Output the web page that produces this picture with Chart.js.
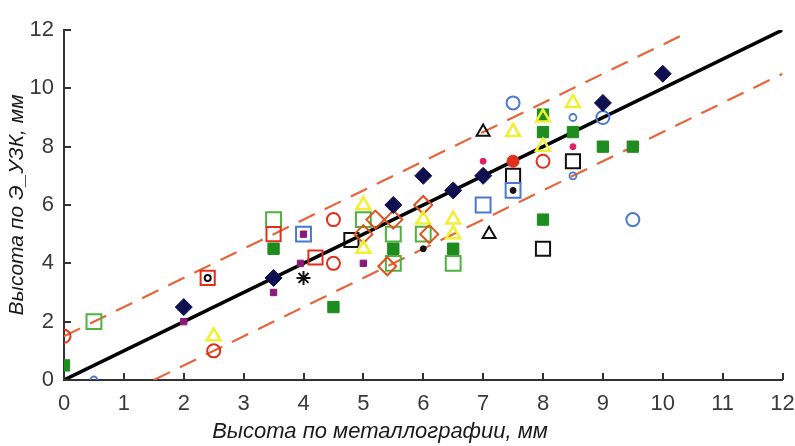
<!DOCTYPE html>
<html>
<head>
<meta charset="utf-8">
<script src="https://cdn.jsdelivr.net/npm/chart.js@4.4.1/dist/chart.umd.min.js"></script>
<style>
  html, body { margin: 0; padding: 0; background: #fff; }
  canvas { display: block; }
</style>
</head>
<body>
<canvas id="chart" width="795" height="446"></canvas>
<script>
// значения
const xTicks = [0, 1, 2, 3, 4, 5, 6, 7, 8, 9, 10, 11, 12]
const yTicks = [0, 2, 4, 6, 8, 10, 12]

const fitX = [0, 12]
const fitY = [0, 12]
const upperX = [0, 10.4]
const upperY = [1.5, 11.9]
const lowerX = [1.5, 12]
const lowerY = [0, 10.5]

const navyX = [2, 3.5, 5.5, 6, 6.5, 7, 9, 10]
const navyY = [2.5, 3.5, 6, 7, 6.5, 7, 9.5, 10.5]
const greenFillX = [0, 3.5, 4.5, 5.5, 6.5, 8, 8, 8.5, 9, 9.5, 8]
const greenFillY = [0.5, 4.5, 2.5, 4.5, 4.5, 9.1, 8.5, 8.5, 8, 8, 5.5]
const greenOpenX = [0.5, 3.5, 5, 5.5, 5.5, 6, 6.5]
const greenOpenY = [2, 5.5, 5.5, 5, 4, 5, 4]
const redCircX = [0, 2.5, 4.5, 4.5, 8]
const redCircY = [1.5, 1, 5.5, 4, 7.5]
const redDotX = [7.5]
const redDotY = [7.5]
const redSqX = [2.4, 3.5, 4.2]
const redSqY = [3.5, 5, 4.2]
const blueSqX = [4, 7, 7.5]
const blueSqY = [5, 6, 6.5]
const blackSqX = [4.8, 7.5, 8, 8.5]
const blackSqY = [4.8, 7, 4.5, 7.5]
const purpleX = [2, 3.5, 4, 5, 3.95]
const purpleY = [2, 3, 5, 4, 4]
const yellowX = [2.5, 5, 5, 6, 6.5, 6.5, 7.5, 8, 8, 8.5]
const yellowY = [1.5, 6, 4.5, 5.5, 5.5, 5, 8.5, 9, 8, 9.5]
const diamondX = [5, 5.2, 5.5, 5.4, 6, 6.1]
const diamondY = [5, 5.5, 5.5, 3.9, 6, 5]
const blackDotX = [6, 7.5]
const blackDotY = [4.5, 6.5]
const blackRingX = [2.4]
const blackRingY = [3.5]
const blackTriX = [7, 7.1]
const blackTriY = [8.5, 5]
const blueBigX = [7.5, 9, 9.5]
const blueBigY = [9.5, 9, 5.5]
const blueSmallX = [0.5, 8.5, 8.5]
const blueSmallY = [0, 9, 7]
const pinkX = [7, 8.5]
const pinkY = [7.5, 8]
const starX = [4]
const starY = [3.5]

const xTitle = 'Высота по металлографии, мм'
const yTitle = 'Высота по Э_УЗК, мм'

function pts(xs, ys) {
    return xs.map((x, i) => ({ x: x, y: ys[i] }))
}

function marks(xs, ys, style, radius, border, fill, width) {
    return {
        data: pts(xs, ys),
        pointStyle: style,
        pointRadius: radius,
        pointBorderColor: border,
        pointBackgroundColor: fill,
        pointBorderWidth: width,
        showLine: false,
        order: 1
    }
}

function line(xs, ys, color, width, dash) {
    return {
        data: pts(xs, ys),
        showLine: true,
        borderColor: color,
        borderWidth: width,
        borderDash: dash,
        pointRadius: 0,
        order: 5
    }
}

// подпись оси X и короткие засечки внутрь поля
const axisExtras = {
    id: 'axisExtras',
    afterDraw(chart) {
        const ctx = chart.ctx
        const xs = chart.scales.x
        const ys = chart.scales.y
        const area = chart.chartArea
        ctx.save()
        ctx.strokeStyle = '#333'
        ctx.lineWidth = 2
        ctx.beginPath()
        xTicks.forEach(v => {
            const px = Math.round(xs.getPixelForValue(v))
            ctx.moveTo(px, area.bottom)
            ctx.lineTo(px, area.bottom - 7)
        })
        yTicks.forEach(v => {
            const py = Math.round(ys.getPixelForValue(v))
            ctx.moveTo(area.left, py)
            ctx.lineTo(area.left + 7, py)
        })
        ctx.stroke()

        ctx.font = 'italic 22px "Liberation Sans", Arial, sans-serif'
        ctx.fillStyle = '#1a1a1a'
        ctx.textAlign = 'center'
        ctx.textBaseline = 'middle'
        ctx.fillText(xTitle, 380, 432)
        ctx.restore()
    }
}

const tickFont = { family: '"Liberation Sans", Arial, sans-serif', size: 22 }

new Chart(document.getElementById('chart'), {
    type: 'scatter',
    data: {
        datasets: [
            marks(starX, starY, 'star', 7, '#111', '#111', 2),
            marks(blackRingX, blackRingY, 'circle', 3, '#111', '#fff', 2),
            marks(blackDotX, blackDotY, 'circle', 3, '#111', '#111', 1),
            marks(purpleX, purpleY, 'rect', 4.5, '#8a1a78', '#8a1a78', 1),
            marks(pinkX, pinkY, 'circle', 3, '#e0205e', '#e0205e', 1),
            marks(redDotX, redDotY, 'circle', 6, '#e0301c', '#e0301c', 1),
            marks(yellowX, yellowY, 'triangle', 8, '#f0f030', 'transparent', 2.5),
            marks(navyX, navyY, 'rectRot', 8.5, '#101050', '#101050', 1),
            marks(blackTriX, blackTriY, 'triangle', 7.5, '#111', 'transparent', 2),
            marks(diamondX, diamondY, 'rectRot', 9, '#e0501a', 'transparent', 2),
            marks(greenFillX, greenFillY, 'rect', 8, '#1e8c1e', '#1e8c1e', 1),
            marks(redSqX, redSqY, 'rect', 10, '#e0301c', 'transparent', 2),
            marks(blueSqX, blueSqY, 'rect', 10.5, '#4a78d0', 'transparent', 2),
            marks(blackSqX, blackSqY, 'rect', 10, '#111', 'transparent', 2),
            marks(greenOpenX, greenOpenY, 'rect', 10.5, '#50b040', 'transparent', 2),
            marks(redCircX, redCircY, 'circle', 6.5, '#e0301c', 'transparent', 2),
            marks(blueBigX, blueBigY, 'circle', 6.5, '#4a78d0', 'transparent', 2),
            marks(blueSmallX, blueSmallY, 'circle', 3.5, '#4a78d0', 'transparent', 1.8),
            line(fitX, fitY, '#000', 3.5, []),
            line(upperX, upperY, '#e8643a', 2.2, [18, 11]),
            line(lowerX, lowerY, '#e8643a', 2.2, [18, 11])
        ]
    },
    options: {
        responsive: false,
        animation: false,
        devicePixelRatio: 1,
        layout: { padding: { top: 30, right: 7, left: 0, bottom: 0 } },
        scales: {
            x: {
                type: 'linear',
                min: 0,
                max: 12,
                afterBuildTicks: scale => { scale.ticks = xTicks.map(v => ({ value: v })) },
                afterFit: scale => {
                    scale.height = 66
                    scale.paddingLeft = 0
                    scale.paddingRight = 0
                },
                ticks: { color: '#3a3a3a', font: tickFont, padding: 11, maxRotation: 0, autoSkip: false },
                grid: { drawOnChartArea: false, drawTicks: false },
                border: { display: true, color: '#333', width: 2 }
            },
            y: {
                type: 'linear',
                min: 0,
                max: 12,
                afterBuildTicks: scale => { scale.ticks = yTicks.map(v => ({ value: v })) },
                afterFit: scale => {
                    scale.width = 64
                    scale.paddingTop = 0
                    scale.paddingBottom = 0
                },
                ticks: { color: '#3a3a3a', font: tickFont, padding: 10, autoSkip: false },
                grid: { drawOnChartArea: false, drawTicks: false },
                border: { display: true, color: '#333', width: 2 },
                title: {
                    display: true,
                    text: yTitle,
                    color: '#1a1a1a',
                    font: { family: '"Liberation Sans", Arial, sans-serif', size: 21, style: 'italic' },
                    padding: { top: 5, bottom: 0 }
                }
            }
        },
        plugins: {
            legend: { display: false },
            tooltip: { enabled: false }
        }
    },
    plugins: [axisExtras]
});
</script>
</body>
</html>
